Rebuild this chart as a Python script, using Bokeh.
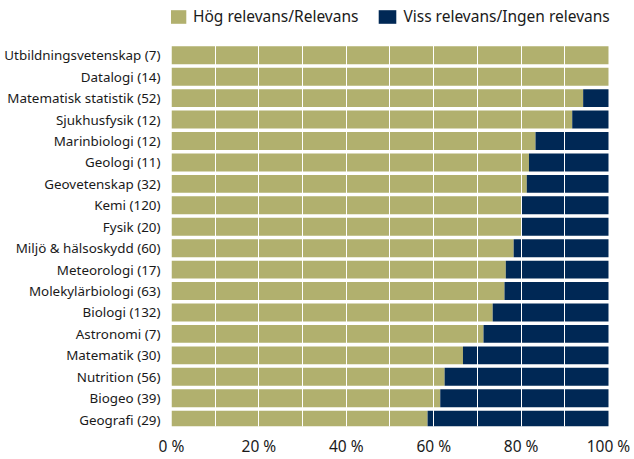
from bokeh.plotting import figure
from bokeh.models import ColumnDataSource, Range1d, FixedTicker, Legend, LegendItem
from bokeh.embed import file_html
from bokeh.resources import INLINE

categories = [
    "Utbildningsvetenskap (7)", "Datalogi (14)", "Matematisk statistik (52)",
    "Sjukhusfysik (12)", "Marinbiologi (12)", "Geologi (11)", "Geovetenskap (32)",
    "Kemi (120)", "Fysik (20)", "Miljö & hälsoskydd (60)", "Meteorologi (17)",
    "Molekylärbiologi (63)", "Biologi (132)", "Astronomi (7)", "Matematik (30)",
    "Nutrition (56)", "Biogeo (39)", "Geografi (29)",
]
high = [100, 100, 94.2, 91.7, 83.3, 81.8, 81.3, 80.0, 80.0, 78.3, 76.5, 76.2,
        73.5, 71.4, 66.7, 62.5, 61.5, 58.6]
low = [0, 0, 5.8, 8.3, 16.7, 18.2, 18.7, 20.0, 20.0, 21.7, 23.5, 23.8,
       26.5, 28.6, 33.3, 37.5, 38.5, 41.4]
x_ticks = [0, 20, 40, 60, 80, 100]
x_tick_labels = ["0 %", "20 %", "40 %", "60 %", "80 %", "100 %"]
series_names = ["Hög relevans/Relevans", "Viss relevans/Ingen relevans"]

GREEN = "#B1B06E"
NAVY = "#002855"
FONT = "Noto Sans"
TEXT = "#1a1a1a"

idx = list(range(len(categories)))
src = ColumnDataSource(dict(
    y=idx,
    h0=[0] * len(idx),
    h1=high,
    l1=[h + l for h, l in zip(high, low)],
))

p = figure(width=634, height=459, output_backend="svg", toolbar_location=None,
           x_range=Range1d(0, 105.95), y_range=Range1d(start=17.32, end=-2.555),
           min_border_left=171, min_border_right=0, min_border_top=0,
           min_border_bottom=0)
p.outline_line_color = None
p.background_fill_color = "white"

r1 = p.hbar(y="y", left="h0", right="h1", height=0.836, source=src,
            fill_color=GREEN, line_color=None)
r2 = p.hbar(y="y", left="h1", right="l1", height=0.836, source=src,
            fill_color=NAVY, line_color=None)

# grid lines in white, drawn over the bars
p.ygrid.visible = False
p.xgrid.ticker = FixedTicker(ticks=[10, 20, 30, 40, 50, 60, 70, 80, 90])
p.xgrid.grid_line_color = "white"
p.xgrid.grid_line_width = 1
p.xgrid.level = "overlay"

ya = p.yaxis[0]
ya.ticker = FixedTicker(ticks=idx)
ya.major_label_overrides = {i: c for i, c in zip(idx, categories)}
ya.axis_line_color = None
ya.major_tick_line_color = None
ya.minor_tick_line_color = None
ya.major_label_standoff = 5
ya.major_label_text_font = FONT
ya.major_label_text_font_size = "13.4px"
ya.major_label_text_color = TEXT

xa = p.xaxis[0]
xa.ticker = FixedTicker(ticks=x_ticks)
xa.major_label_overrides = {t: l for t, l in zip(x_ticks, x_tick_labels)}
xa.axis_line_color = None
xa.major_tick_line_color = None
xa.minor_tick_line_color = None
xa.major_label_standoff = 2
xa.major_label_text_font = FONT
xa.major_label_text_font_size = "15.5px"
xa.major_label_text_color = TEXT

legend = Legend(items=[LegendItem(label=series_names[0], renderers=[r1]),
                       LegendItem(label=series_names[1], renderers=[r2])],
                orientation="horizontal", location=(-5, 399),
                glyph_width=22, glyph_height=17, label_standoff=5, spacing=18,
                padding=0, margin=0, border_line_color=None,
                background_fill_alpha=0, label_text_font=FONT,
                label_text_font_size="15.5px", label_text_color=TEXT,
                label_height=17)
p.add_layout(legend, "center")

open("out.html", "w").write(file_html(p, INLINE))
